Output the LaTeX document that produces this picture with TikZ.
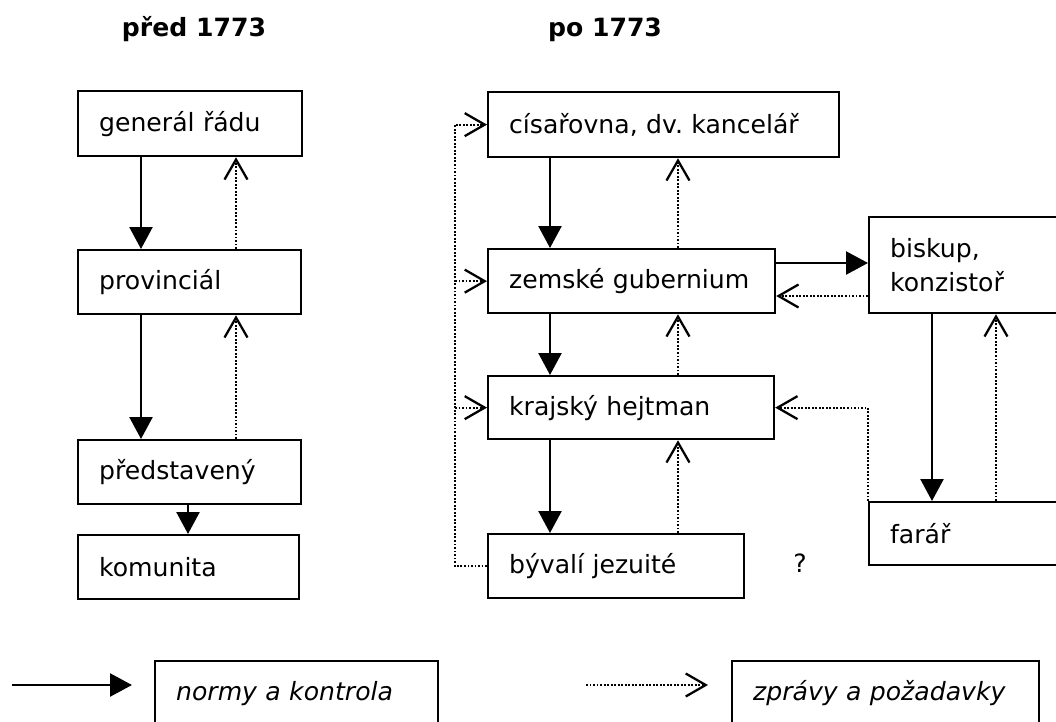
\documentclass[tikz,border=0pt]{standalone}
\usepackage{fontspec}
\setmainfont{DejaVu Sans}
\usetikzlibrary{arrows.meta}
\newcommand{\pix}{0.02cm}

\begin{document}
\begin{tikzpicture}[x=\pix, y=-\pix, font=\fontsize{14.3pt}{18.8pt}\selectfont,
    box/.style={draw, rectangle, anchor=north west, align=left, inner xsep=0.42cm, inner ysep=0pt, line width=1.3pt},
    ctrl/.style={line width=1.4pt, -{Triangle[length=0.44cm, width=0.46cm]}},
    info/.style={line width=1.2pt, dash pattern=on 1.1pt off 0.9pt, -{Straight Barb[length=0.4cm, width=0.46cm, line width=1.3pt]}}]
    \useasboundingbox (0,0) rectangle (1056,721);

    % Titles
    \node[anchor=base, font=\fontsize{14.3pt}{18.8pt}\selectfont\bfseries] (t-pred) at (194,36) {před 1773};
    \node[anchor=base, font=\fontsize{14.3pt}{18.8pt}\selectfont\bfseries] (t-po) at (605,36) {po 1773};

    % Before 1773
    \node[box, text width=3.64cm, minimum height=1.3cm] (gen) at (77,90) {generál řádu};
    \node[box, text width=3.62cm, minimum height=1.28cm] (prov) at (77,249) {provinciál};
    \node[box, text width=3.62cm, minimum height=1.28cm] (pred) at (77,439) {představený};
    \node[box, text width=3.58cm, minimum height=1.28cm] (kom) at (77,534) {komunita};

    % After 1773
    \node[box, text width=6.18cm, minimum height=1.3cm] (cis) at (487,91) {císařovna, dv.\ kancelář};
    \node[box, text width=4.9cm, minimum height=1.28cm] (zem) at (487,248) {zemské gubernium};
    \node[box, text width=4.88cm, minimum height=1.26cm] (kraj) at (487,375) {krajský hejtman};
    \node[box, text width=4.28cm, minimum height=1.28cm] (byv) at (487,533) {bývalí jezuité};
    \node[box, text width=3.6cm, minimum height=1.92cm] (bisk) at (868,216) {biskup,\\konzistoř};
    \node[box, text width=3.6cm, minimum height=1.26cm] (far) at (868,501) {farář};
    \node[anchor=base] (q) at (800,572) {?};

    % Legend
    \node[box, text width=4.82cm, minimum height=1.28cm, font=\fontsize{14.3pt}{18.8pt}\selectfont\itshape] (leg-ctrl) at (154,660) {normy a kontrola};
    \node[box, text width=5.3cm, minimum height=1.28cm, font=\fontsize{14.3pt}{18.8pt}\selectfont\itshape] (leg-info) at (731,660) {zprávy a požadavky};

    % Columns and rows of the connectors
    \coordinate (x-l1) at (141,0);
    \coordinate (x-l2) at (236,0);
    \coordinate (x-l3) at (188,0);
    \coordinate (x-r1) at (550,0);
    \coordinate (x-r2) at (678,0);
    \coordinate (x-b1) at (932,0);
    \coordinate (x-b2) at (996,0);
    \coordinate (x-loop) at (455,0);
    \coordinate (y-h1) at (0,263);
    \coordinate (y-h2) at (0,296);

    \draw[ctrl] (gen.south -| x-l1) -- (prov.north -| x-l1);
    \draw[info] (prov.north -| x-l2) -- (gen.south -| x-l2);
    \draw[ctrl] (prov.south -| x-l1) -- (pred.north -| x-l1);
    \draw[info] (pred.north -| x-l2) -- (prov.south -| x-l2);
    \draw[ctrl] (pred.south -| x-l3) -- (kom.north -| x-l3);

    \draw[ctrl] (cis.south -| x-r1) -- (zem.north -| x-r1);
    \draw[info] (zem.north -| x-r2) -- (cis.south -| x-r2);
    \draw[ctrl] (zem.south -| x-r1) -- (kraj.north -| x-r1);
    \draw[info] (kraj.north -| x-r2) -- (zem.south -| x-r2);
    \draw[ctrl] (kraj.south -| x-r1) -- (byv.north -| x-r1);
    \draw[info] (byv.north -| x-r2) -- (kraj.south -| x-r2);

    \draw[ctrl] (zem.east |- y-h1) -- (bisk.west |- y-h1);
    \draw[info] (bisk.west |- y-h2) -- (zem.east |- y-h2);
    \draw[ctrl] (bisk.south -| x-b1) -- (far.north -| x-b1);
    \draw[info] (far.north -| x-b2) -- (bisk.south -| x-b2);
    \draw[info] (far.north west) |- (kraj.east);

    \draw[info] (byv.west) -| (cis.west -| x-loop) -- (cis.west);
    \draw[info] (zem.west -| x-loop) -- (zem.west);
    \draw[info] (kraj.west -| x-loop) -- (kraj.west);

    % Legend arrows
    \coordinate (lc-a) at (12,685);
    \coordinate (lc-b) at (132,685);
    \coordinate (li-a) at (586,685);
    \coordinate (li-b) at (708,685);
    \draw[ctrl] (lc-a) -- (lc-b);
    \draw[info] (li-a) -- (li-b);

\end{tikzpicture}
\end{document}
